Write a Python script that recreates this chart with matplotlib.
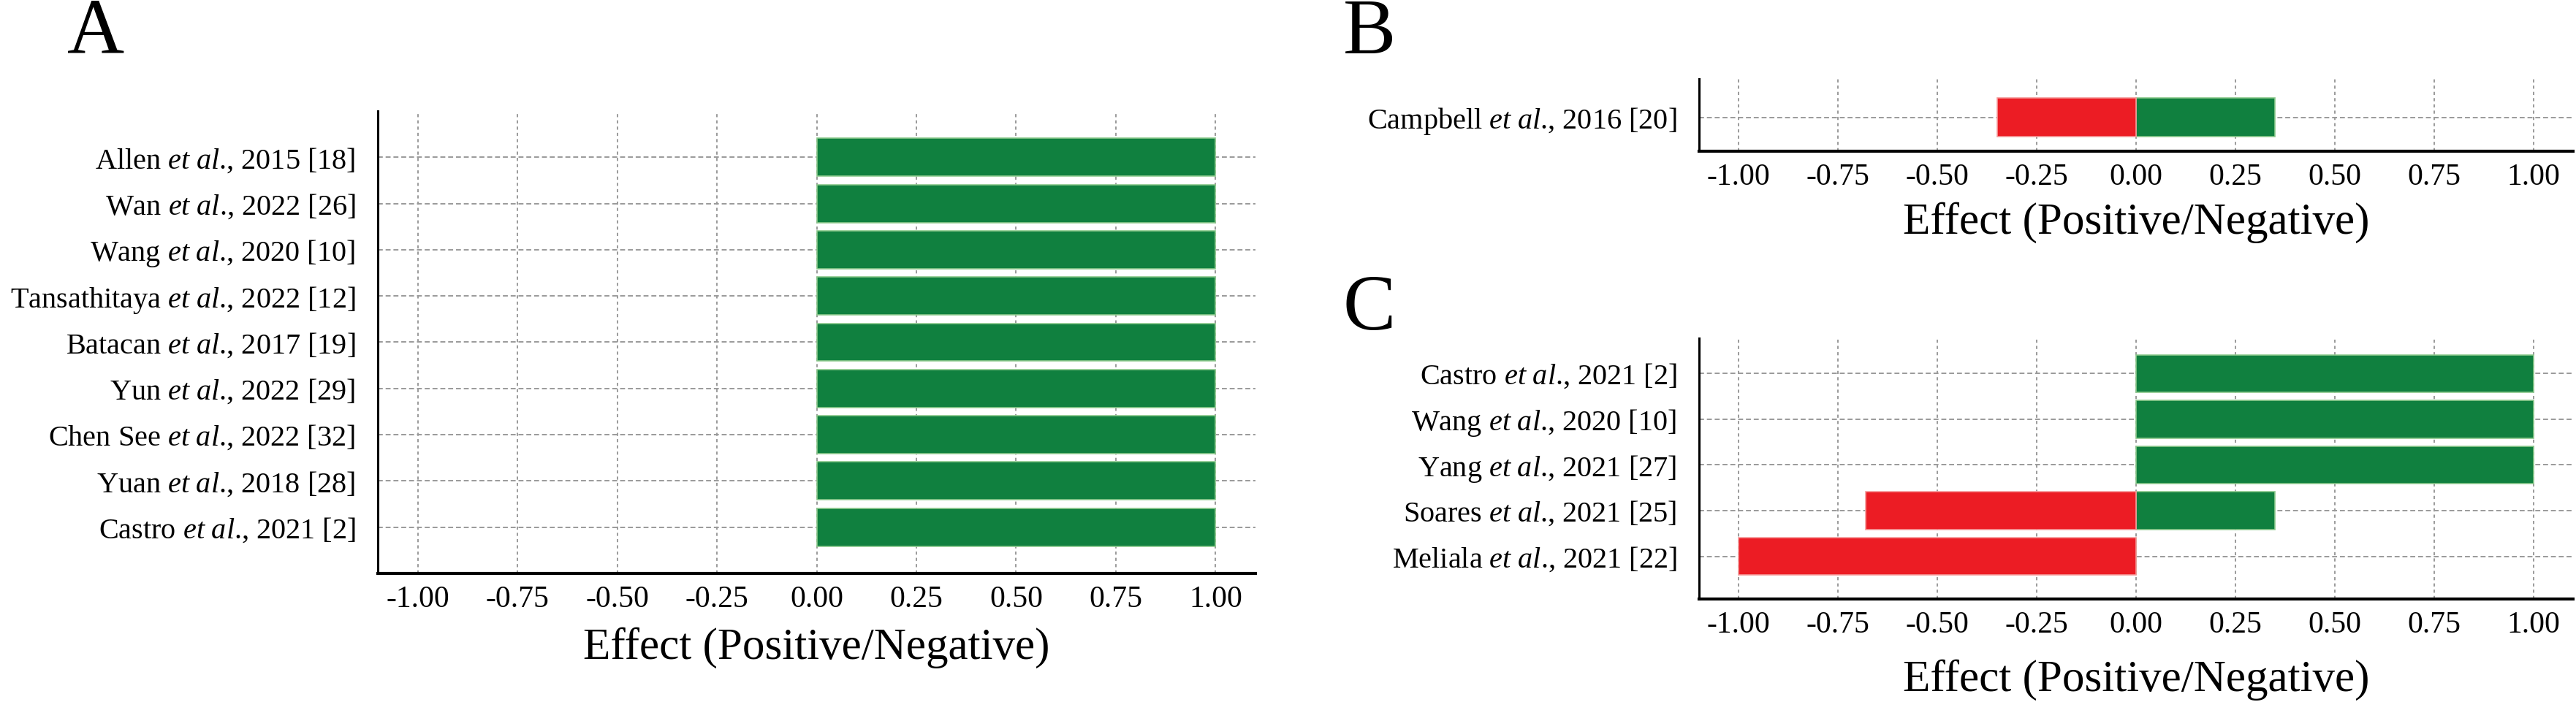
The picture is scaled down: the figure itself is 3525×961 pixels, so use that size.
import matplotlib
matplotlib.use("Agg")
import matplotlib.pyplot as plt
import numpy as np

plt.rcParams['font.family'] = ['Liberation Serif', 'DejaVu Serif']
plt.rcParams['mathtext.fontset'] = 'custom'
plt.rcParams['mathtext.rm'] = 'Liberation Serif'
plt.rcParams['mathtext.it'] = 'Liberation Serif:italic'

# ---------------- data ----------------
a_authors = ["Allen", "Wan", "Wang", "Tansathitaya", "Batacan", "Yun", "Chen See", "Yuan", "Castro"]
a_years = ["2015 [18]", "2022 [26]", "2020 [10]", "2022 [12]", "2017 [19]", "2022 [29]", "2022 [32]", "2018 [28]", "2021 [2]"]
a_pos = [1.0, 1.0, 1.0, 1.0, 1.0, 1.0, 1.0, 1.0, 1.0]
a_neg = [0.0, 0.0, 0.0, 0.0, 0.0, 0.0, 0.0, 0.0, 0.0]

b_authors = ["Campbell"]
b_years = ["2016 [20]"]
b_pos = [0.35]
b_neg = [-0.35]

c_authors = ["Castro", "Wang", "Yang", "Soares", "Meliala"]
c_years = ["2021 [2]", "2020 [10]", "2021 [27]", "2021 [25]", "2021 [22]"]
c_pos = [1.0, 1.0, 1.0, 0.35, 0.0]
c_neg = [0.0, 0.0, 0.0, -0.68, -1.0]

xticks = [-1.00, -0.75, -0.50, -0.25, 0.00, 0.25, 0.50, 0.75, 1.00]
xlabel = "Effect (Positive/Negative)"
panel_labels = ["A", "B", "C"]

GREEN = "#10803f"
GREEN_EDGE = "#8cc98c"
RED = "#ec1c24"
RED_EDGE = "#f59a9a"
GRID = "#9a9a9a"

W, H, DPI = 3525, 961, 100
fig = plt.figure(figsize=(W / DPI, H / DPI), dpi=DPI)


def make_labels(authors, years):
    return [f"{a} $\\it{{et\\ al}}$., {y}" for a, y in zip(authors, years)]


def draw_panel(rect, authors, years, pos, neg, ylim):
    ax = fig.add_axes(rect)
    n = len(authors)
    y = np.arange(n)[::-1]
    ax.set_xlim(-1.1, 1.1)
    ax.set_ylim(*ylim)
    for xv in xticks:
        ax.axvline(xv, color=GRID, lw=1.4, dashes=(2.2, 2.2), zorder=0.5)
    for yv in y:
        ax.axhline(yv, color=GRID, lw=1.4, dashes=(3.5, 2.0), zorder=0.5)
    ax.barh(y, pos, height=0.82, color=GREEN, edgecolor=GREEN_EDGE, linewidth=1.2, zorder=2)
    negs = np.array(neg)
    mask = negs < 0
    if mask.any():
        ax.barh(y[mask], negs[mask], height=0.82, color=RED, edgecolor=RED_EDGE, linewidth=1.2, zorder=2)
    ax.set_yticks(y)
    ax.set_yticklabels(make_labels(authors, years), fontsize=29)
    ax.set_xticks(xticks)
    ax.set_xticklabels([f"{v:.2f}" for v in xticks], fontsize=30)
    ax.tick_params(axis='y', length=0, pad=22)
    ax.tick_params(axis='x', length=0, pad=12)
    for s in ['top', 'right']:
        ax.spines[s].set_visible(False)
    ax.spines['left'].set_linewidth(2.2)
    ax.spines['bottom'].set_linewidth(3.0)
    ax.set_xlabel(xlabel, fontsize=44)
    return ax


axA = draw_panel([517 / W, 1 - 785 / H, 1201 / W, 633 / H], a_authors, a_years, a_pos, a_neg, (-1.0, 9.0))
axB = draw_panel([2325 / W, 1 - 207 / H, 1196 / W, 99 / H], b_authors, b_years, b_pos, b_neg, (-0.71, 0.81))
axC = draw_panel([2325 / W, 1 - 820 / H, 1196 / W, 357 / H], c_authors, c_years, c_pos, c_neg, (-0.93, 4.77))

for ax, yc in [(axA, 887), (axB, 305), (axC, 931)]:
    bb = ax.get_position()
    ax.xaxis.set_label_coords(bb.x0 + bb.width / 2, 1 - yc / H, transform=fig.transFigure)
    ax.xaxis.label.set_va('center')

fig.text(92 / W, 1 - 73 / H, panel_labels[0], fontsize=78, va='baseline', ha='left')
fig.text(1838 / W, 1 - 73 / H, panel_labels[1], fontsize=78, va='baseline', ha='left')
fig.text(1838 / W, 1 - 451 / H, panel_labels[2], fontsize=78, va='baseline', ha='left')

fig.savefig("out.png", dpi=DPI, facecolor='white')
